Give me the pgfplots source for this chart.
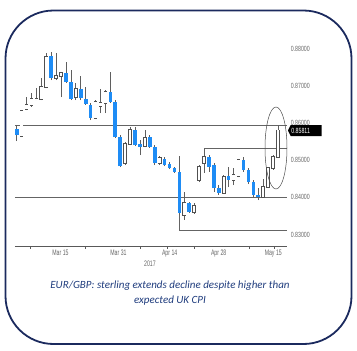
\documentclass[border=0pt]{standalone}
\usepackage{pgfplots}
\usepackage{pgfplotstable}
\pgfplotsset{compat=1.18}
\usepackage{fontspec}
\setmainfont{Carlito}
\newfontfamily\tickfont{Liberation Sans}
\definecolor{navy}{RGB}{27,42,94}
\definecolor{captc}{RGB}{31,60,125}
\definecolor{cblue}{RGB}{30,140,245}
\definecolor{cedge}{RGB}{80,80,80}
\definecolor{wickc}{RGB}{95,95,95}
\definecolor{levc}{RGB}{100,100,100}
% i low bodylow bodyhigh high
\pgfplotstableread{
i l bl bh h
1 0.85520 0.85682 0.85844 0.85951
8 0.87164 0.87218 0.87811 0.87919
11 0.87084 0.87110 0.87353 0.87650
12 0.86625 0.86652 0.87110 0.87434
14 0.86625 0.86679 0.86922 0.87272
15 0.86491 0.86518 0.86652 0.86976
16 0.86086 0.86140 0.86491 0.86545
20 0.86545 0.86571 0.86841 0.87380
21 0.85601 0.85628 0.86571 0.86625
22 0.84819 0.84846 0.85628 0.85682
25 0.85385 0.85412 0.85817 0.85898
26 0.85143 0.85358 0.85439 0.85547
28 0.85332 0.85358 0.85628 0.85682
29 0.84873 0.84927 0.85358 0.85412
31 0.84846 0.84873 0.85035 0.85089
32 0.84765 0.84792 0.84900 0.84954
33 0.84658 0.84685 0.84792 0.84819
34 0.83526 0.83580 0.84685 0.85116
36 0.83580 0.83606 0.83849 0.83876
40 0.84685 0.84819 0.85089 0.85143
41 0.84146 0.84253 0.84873 0.84927
42 0.84065 0.84119 0.84253 0.84334
44 0.84280 0.84469 0.84577 0.84819
47 0.84685 0.84739 0.85008 0.85089
48 0.84361 0.84415 0.84739 0.84792
49 0.84011 0.84065 0.84415 0.84469
50 0.83930 0.84011 0.84065 0.84253
}\beartable
\pgfplotstableread{
i l bl bh h
2 0.85628 0.85655 0.86329 0.86356
3 0.86356 0.86383 0.86491 0.86706
4 0.86437 0.86491 0.86652 0.86814
5 0.86625 0.86638 0.86666 0.86949
6 0.86625 0.86652 0.86976 0.87218
7 0.86949 0.86976 0.87784 0.87892
9 0.87164 0.87218 0.87272 0.87892
10 0.86706 0.87272 0.87353 0.87380
13 0.86625 0.86706 0.86922 0.87084
17 0.86113 0.86140 0.86571 0.86625
18 0.86275 0.86464 0.86545 0.86922
19 0.86275 0.86545 0.86841 0.86895
23 0.84873 0.84927 0.85439 0.85493
24 0.85412 0.85439 0.85817 0.85898
27 0.85358 0.85385 0.85601 0.85817
30 0.84873 0.84927 0.85062 0.85116
35 0.83391 0.83526 0.83849 0.84146
37 0.83553 0.83606 0.83768 0.83849
38 0.84415 0.84469 0.84819 0.84873
39 0.84658 0.84927 0.85089 0.85332
43 0.84092 0.84119 0.84550 0.84604
45 0.84334 0.84469 0.84604 0.84792
46 0.84550 0.84577 0.85008 0.85035
51 0.83984 0.84011 0.84280 0.84496
52 0.84253 0.84280 0.84792 0.84819
53 0.84739 0.84792 0.85089 0.85143
54 0.85062 0.85089 0.85811 0.85951
}\bulltable
\pgfplotsset{
  candle/.style n args={2}{draw=none, mark=none, error bars/.cd, y dir=plus, y explicit, error mark=none,
    error bar style={draw=#1, line width=#2}},
}
\begin{document}
\begin{tikzpicture}[x=1pt,y=1pt]
\useasboundingbox (0,0) rectangle (357,-351);
\draw[navy, line width=1.8pt, rounded corners=48pt] (5.5,-10.5) rectangle (351.5,-344);
\begin{axis}[
  scale only axis, width=272pt, height=206pt,
  at={(15pt,-246pt)}, anchor=south west,
  xmin=0.655, xmax=55.83, ymin=0.82690, ymax=0.88243,
  clip=false,
  axis x line*=bottom, axis y line*=right,
  y axis line style={draw=none},
  x axis line style={draw=black!65, line width=0.8pt, -},
  xtick={9.88,21.65,32.03,41.97,53.05},
  xticklabels={Mar 15, Mar 31, Apr 14, Apr 28, May 15},
  minor xtick={3.70,14.85,26.01,31.49,36.96,48.12,53.19},
  major tick length=0pt, minor tick length=2.5pt, tick align=outside,
  minor tick style={draw=black!65, line width=0.6pt},
  ytick={0.83,0.84,0.85,0.86,0.87,0.88},
  yticklabels={0.83000,0.84000,0.85000,0.86000,0.87000,0.88000},
  yticklabel style={anchor=west, inner sep=0pt, xshift=3.7pt, font=\tickfont\fontsize{7.5}{8}\selectfont, text=black!60, xscale=0.7},
  xticklabel style={anchor=north, inner sep=0pt, yshift=-3.5pt, font=\tickfont\fontsize{8}{9}\selectfont, text=black!60, xscale=0.65},
  every axis plot/.append style={forget plot},
]
\addplot[levc, line width=0.7pt] coordinates {(0.655,0.8594) (55.83,0.8594)};
\addplot[levc, line width=0.7pt] coordinates {(0.655,0.8400) (55.83,0.8400)};
\addplot[levc, line width=0.7pt] coordinates {(39,0.8533) (55.83,0.8533)};
\addplot[levc, line width=0.7pt] coordinates {(34,0.83526) (34,0.8312) (55.83,0.8312)};
% wicks
\addplot[candle={wickc}{0.75pt}] table[x=i, y=l, y error expr=\thisrow{h}-\thisrow{l}] {\beartable};
\addplot[candle={wickc}{0.75pt}] table[x=i, y=l, y error expr=\thisrow{h}-\thisrow{l}] {\bulltable};
% bear bodies
\addplot[candle={cblue}{3.6pt}] table[x=i, y=bl, y error expr=\thisrow{bh}-\thisrow{bl}] {\beartable};
% bull bodies: outline then fill
\addplot[draw=none, mark=none, error bars/.cd, y dir=plus, y explicit, error mark=none,
  error bar style={draw=cedge, line width=3.7pt, shorten >=-0.55pt, shorten <=-0.55pt}]
  table[x=i, y=bl, y error expr=\thisrow{bh}-\thisrow{bl}] {\bulltable};
\addplot[candle={white}{2.5pt}] table[x=i, y=bl, y error expr=\thisrow{bh}-\thisrow{bl}] {\bulltable};
\end{axis}
\draw[black!70, line width=0.5pt] (276,-148) ellipse [x radius=11, y radius=41];
\fill[black] (288,-130.5) -- (290.7,-125) -- (321.7,-125) -- (321.7,-136) -- (290.7,-136) -- cycle;
\node[anchor=west, inner sep=0pt, font=\tickfont\fontsize{7.5}{8}\selectfont, text=white, xscale=0.7] at (291.2,-130.5) {0.85811};
\node[font=\tickfont\fontsize{8}{9}\selectfont, text=black!60, xscale=0.65] at (150,-264) {2017};
\node[font=\itshape\fontsize{11}{14.5}\selectfont, text=captc, align=center] at (170,-293) {EUR/GBP: sterling extends decline despite higher than\\expected UK CPI};
\end{tikzpicture}
\end{document}
